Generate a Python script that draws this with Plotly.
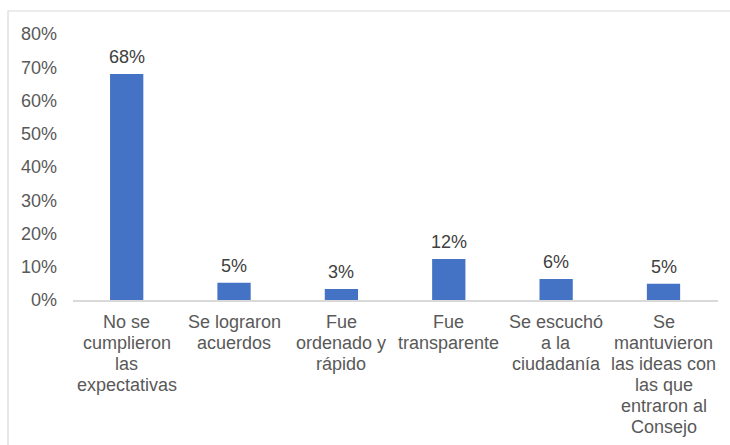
import plotly.graph_objects as go

categories = [
    "No se<br>cumplieron<br>las<br>expectativas",
    "Se lograron<br>acuerdos",
    "Fue<br>ordenado y<br>rápido",
    "Fue<br>transparente",
    "Se escuchó<br>a la<br>ciudadanía",
    "Se<br>mantuvieron<br>las ideas con<br>las que<br>entraron al<br>Consejo",
]
values = [68, 5.2, 3.3, 12.3, 6.3, 4.9]
labels = ["68%", "5%", "3%", "12%", "6%", "5%"]
y_ticks = [0, 10, 20, 30, 40, 50, 60, 70, 80]
y_tick_text = [f"{v}%" for v in y_ticks]

W, H = 730, 445
L, R, T, B = 73, 12, 34, 145
FONT = "Liberation Sans, Arial"
FS = 18
LINE_H = 21

fig = go.Figure(
    go.Bar(
        x=categories,
        y=values,
        marker=dict(color="#4472C4", line=dict(width=0)),
        width=0.31,
        hoverinfo="skip",
    )
)

pw = W - L - R
ph = H - T - B

annotations = []
# data labels
for c, v, t in zip(categories, values, labels):
    annotations.append(dict(
        x=c, y=v, xref="x", yref="y", text=t, showarrow=False,
        yanchor="bottom", yshift=5,
        font=dict(family=FONT, size=FS, color="#404040"),
    ))
# category labels, one line per annotation
for c in categories:
    for i, line in enumerate(c.split("<br>")):
        annotations.append(dict(
            x=c, y=0, xref="x", yref="paper", text=line, showarrow=False,
            yanchor="middle", yshift=-(22 + i * LINE_H),
            font=dict(family=FONT, size=FS, color="#595959"),
        ))

fig.update_layout(
    width=W,
    height=H,
    margin=dict(l=L, r=R, t=T, b=B, pad=0),
    paper_bgcolor="white",
    plot_bgcolor="white",
    showlegend=False,
    font=dict(family=FONT, size=FS, color="#595959"),
    xaxis=dict(
        showgrid=False,
        showline=True,
        linecolor="#d9d9d9",
        linewidth=1.5,
        ticks="",
        showticklabels=False,
        automargin=False,
    ),
    yaxis=dict(
        range=[0, 80],
        tickvals=y_ticks,
        ticktext=y_tick_text,
        showgrid=False,
        zeroline=False,
        showline=False,
        ticks="",
        ticklabelstandoff=15,
        tickfont=dict(family=FONT, size=FS, color="#595959"),
        automargin=False,
    ),
    annotations=annotations,
    shapes=[
        dict(
            type="rect",
            xref="paper",
            yref="paper",
            x0=(8 - L) / pw,
            x1=1 + (R + 20) / pw,
            y0=-(B + 20) / ph,
            y1=1 + (T - 11) / ph,
            line=dict(color="#d9d9d9", width=1.2),
            fillcolor="rgba(0,0,0,0)",
            layer="below",
        )
    ],
)

fig.write_html(
    "out.html",
    config={"displayModeBar": False},
    post_script="document.body.style.margin='0';document.body.style.padding='0';",
)
